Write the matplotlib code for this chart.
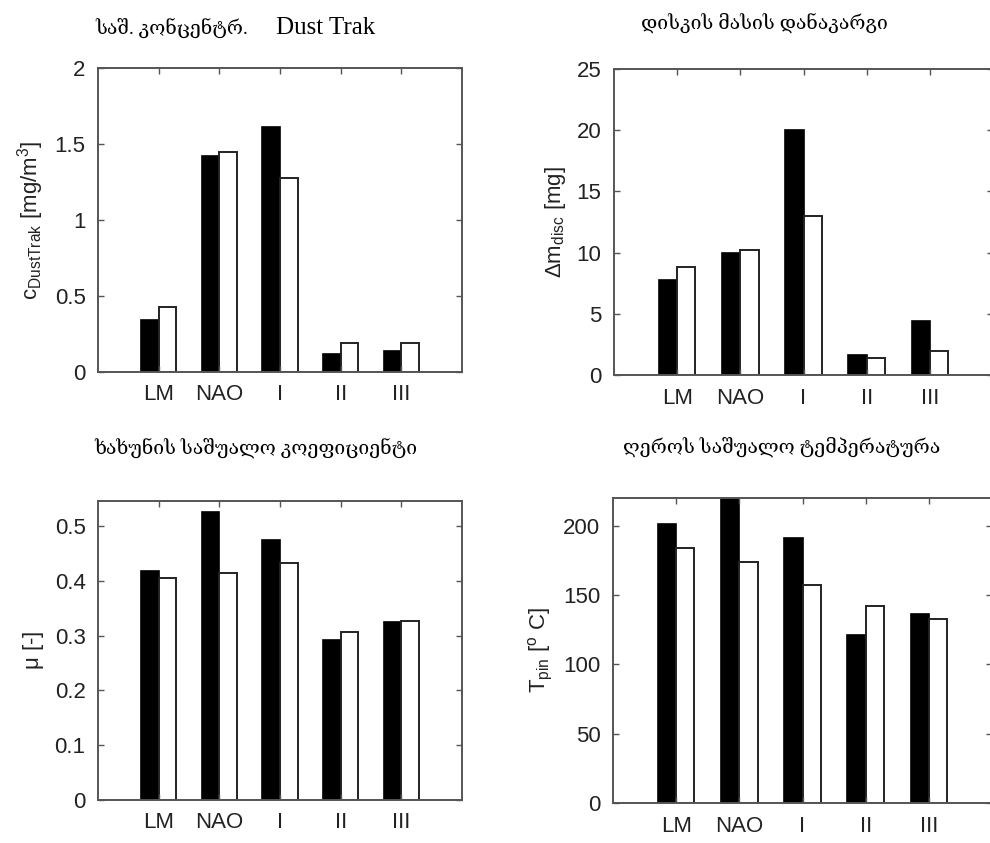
import numpy as np
import matplotlib
matplotlib.use("Agg")
import matplotlib.pyplot as plt
from matplotlib.ticker import FuncFormatter

plt.rcParams["font.family"] = ["Liberation Sans", "DejaVu Sans"]
plt.rcParams["mathtext.fontset"] = "custom"
plt.rcParams["mathtext.rm"] = "Liberation Sans"
plt.rcParams["mathtext.it"] = "Liberation Sans"

categories = ["LM", "NAO", "I", "II", "III"]

dust_dark = [0.34, 1.42, 1.61, 0.12, 0.14]
dust_light = [0.43, 1.45, 1.275, 0.19, 0.19]

mass_dark = [7.8, 9.95, 20.0, 1.65, 4.4]
mass_light = [8.85, 10.25, 13.0, 1.4, 1.95]

mu_dark = [0.418, 0.526, 0.474, 0.292, 0.325]
mu_light = [0.405, 0.414, 0.433, 0.307, 0.327]

temp_dark = [201, 226, 191, 121, 136]
temp_light = [184, 174, 157, 142, 133]

titles = [
    "საშ. კონცენტრ.",
    "დისკის მასის დანაკარგი",
    "ხახუნის საშუალო კოეფიციენტი",
    "ღეროს საშუალო ტემპერატურა",
]

W, H = 990, 843
fig = plt.figure(figsize=(W / 100, H / 100), dpi=100)


def box(l, t, r, b):
    return [l / W, 1 - b / H, (r - l) / W, (b - t) / H]


fmt = FuncFormatter(lambda v, pos: "%g" % v)


def panel(rect, dark, light, ylim, yticks, ylabel):
    ax = fig.add_axes(rect)
    x = np.arange(1, len(categories) + 1)
    w = 0.29
    ax.bar(x - w / 2, dark, w, color="black", edgecolor="black", linewidth=1.2)
    ax.bar(x + w / 2, light, w, color="white", edgecolor="#222222", linewidth=1.4)
    ax.set_xlim(0, 6)
    ax.set_ylim(*ylim)
    ax.set_xticks(x)
    ax.set_xticklabels(categories)
    ax.set_yticks(yticks)
    ax.yaxis.set_major_formatter(fmt)
    ax.tick_params(direction="in", top=True, right=True, length=4, width=1,
                   color="#555555", labelsize=16, labelcolor="#222222", pad=9)
    for s in ax.spines.values():
        s.set_color("#555555")
        s.set_linewidth(1.4)
    ax.set_ylabel(ylabel, fontsize=16, color="#222222", labelpad=6)
    return ax


panel(box(98, 68, 462, 372), dust_dark, dust_light, (0, 2),
      [0, 0.5, 1, 1.5, 2], r"c$_{\rm DustTrak}$ [mg/m$^{3}$]")
panel(box(614, 69, 993, 375), mass_dark, mass_light, (0, 25),
      [0, 5, 10, 15, 20, 25], r"$\Delta$m$_{\rm disc}$ [mg]")
panel(box(98, 501, 462, 800), mu_dark, mu_light, (0, 0.546),
      [0, 0.1, 0.2, 0.3, 0.4, 0.5], r"$\mu$ [-]")
panel(box(613, 498, 992, 803), temp_dark, temp_light, (0, 220),
      [0, 50, 100, 150, 200], r"T$_{\rm pin}$ [$^{\rm o}$ C]")

# panel headings
serif = ["Liberation Serif", "DejaVu Serif"]
fig.text(95 / W, 1 - 28 / H, titles[0], family=serif, fontsize=14,
         ha="left", va="center")
fig.text(375 / W, 1 - 28 / H, "Dust Trak", family=serif, fontsize=18,
         ha="right", va="center")
fig.text(764 / W, 1 - 23 / H, titles[1], family=serif, fontsize=14,
         ha="center", va="center")
fig.text(256 / W, 1 - 448 / H, titles[2], family=serif, fontsize=14,
         ha="center", va="center")
fig.text(782 / W, 1 - 447 / H, titles[3], family=serif, fontsize=14,
         ha="center", va="center")

fig.savefig("out.png", dpi=100)
